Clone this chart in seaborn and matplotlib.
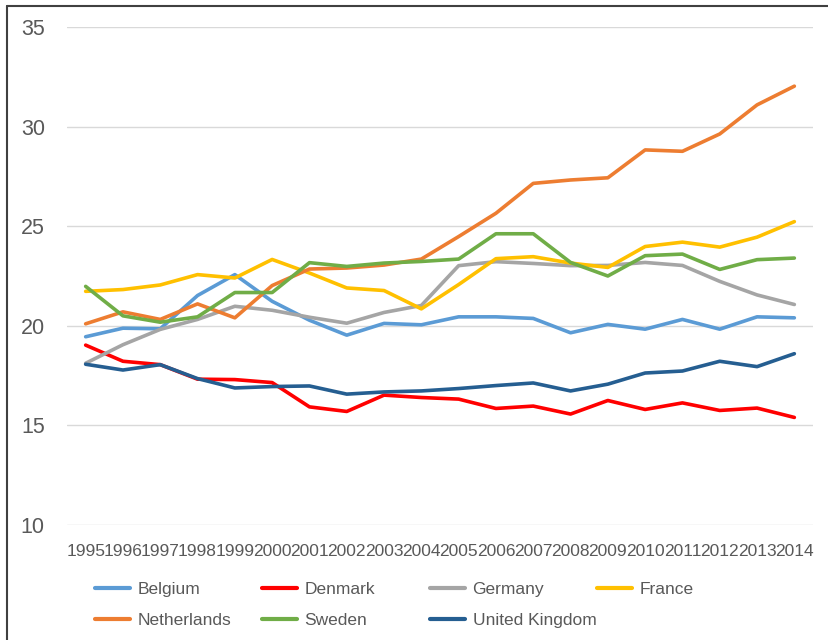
import matplotlib
matplotlib.use("Agg")
import matplotlib.pyplot as plt
from matplotlib.lines import Line2D
import seaborn as sns
import pandas as pd

years = [str(y) for y in range(1995, 2015)]
belgium = [19.45, 19.88, 19.85, 21.52, 22.57, 21.23, 20.28, 19.53, 20.12, 20.05,
           20.45, 20.45, 20.37, 19.65, 20.07, 19.83, 20.32, 19.83, 20.45, 20.40]
denmark = [19.03, 18.22, 18.05, 17.32, 17.30, 17.15, 15.93, 15.70, 16.52, 16.40,
           16.32, 15.85, 15.97, 15.57, 16.25, 15.80, 16.13, 15.75, 15.87, 15.40]
germany = [18.12, 19.05, 19.82, 20.32, 20.98, 20.78, 20.43, 20.13, 20.67, 21.02,
           23.02, 23.22, 23.13, 23.02, 23.03, 23.18, 23.03, 22.23, 21.55, 21.07]
france = [21.73, 21.82, 22.05, 22.57, 22.40, 23.33, 22.65, 21.90, 21.77, 20.85,
          22.07, 23.37, 23.47, 23.15, 22.93, 23.98, 24.20, 23.95, 24.45, 25.23]
netherlands = [20.10, 20.70, 20.32, 21.10, 20.40, 22.02, 22.85, 22.90, 23.05, 23.35,
               24.48, 25.65, 27.15, 27.32, 27.43, 28.83, 28.76, 29.63, 31.09, 32.03]
sweden = [21.98, 20.50, 20.18, 20.45, 21.67, 21.67, 23.17, 22.98, 23.15, 23.23,
          23.35, 24.62, 24.62, 23.18, 22.50, 23.52, 23.60, 22.83, 23.32, 23.40]
uk = [18.07, 17.78, 18.05, 17.35, 16.88, 16.95, 16.98, 16.57, 16.68, 16.73,
      16.85, 17.00, 17.13, 16.73, 17.07, 17.63, 17.73, 18.22, 17.95, 18.60]

countries = ["Belgium", "Denmark", "Germany", "France", "Netherlands", "Sweden", "United Kingdom"]
series = [belgium, denmark, germany, france, netherlands, sweden, uk]
colors = ["#5B9BD5", "#FF0000", "#A5A5A5", "#FFC000", "#ED7D31", "#70AD47", "#255E91"]
y_ticks = [10, 15, 20, 25, 30, 35]

rows = []
for c, vals in zip(countries, series):
    for i, v in enumerate(vals):
        rows.append({"idx": i, "value": v, "country": c})
df = pd.DataFrame(rows)

sns.set_theme(style="white")
plt.rcParams["font.family"] = ["Liberation Sans", "DejaVu Sans"]

fig = plt.figure(figsize=(8.29, 6.40), dpi=100)
ax = fig.add_axes([67 / 829, 1 - 525 / 640, (813 - 67) / 829, (525 - 27) / 640])

sns.lineplot(data=df, x="idx", y="value", hue="country", hue_order=countries,
             palette=dict(zip(countries, colors)), linewidth=2.6, ax=ax, legend=True)
handles, labels = ax.get_legend_handles_labels()
ax.get_legend().remove()

ax.set_xlim(-0.5, len(years) - 0.5)
ax.set_ylim(10, 35)
ax.set_yticks(y_ticks)
ax.set_yticklabels([str(t) for t in y_ticks], fontsize=15.5, color="#595959")
ax.set_xticks(range(len(years)))
ax.set_xticklabels(years, fontsize=12.5, color="#595959")
ax.tick_params(axis="y", length=0, pad=16)
ax.tick_params(axis="x", length=0, pad=14)
ax.set_xlabel("")
ax.set_ylabel("")
ax.grid(axis="y", color="#D9D9D9", linewidth=1.0)
ax.grid(axis="x", visible=False)
ax.set_axisbelow(True)
for s in ax.spines.values():
    s.set_visible(False)

# Legend: four columns placed like the reference
hmap = dict(zip(labels, handles))
cols = [["Belgium", "Netherlands"], ["Denmark", "Sweden"], ["Germany", "United Kingdom"], ["France"]]
xs = [95, 262, 430, 597]
for names, x0 in zip(cols, xs):
    hs = [Line2D([], [], color=hmap[n].get_color(), linewidth=3) for n in names]
    yc = (589 + 621) / 2 if len(names) == 2 else 589
    fig.legend(hs, names, loc="center left", bbox_to_anchor=(x0 / 829, 1 - yc / 640),
               frameon=False, fontsize=12.5, borderpad=0, borderaxespad=0,
               handlelength=2.0, handletextpad=0.45, labelspacing=0.95,
               labelcolor="#595959")

# chart border (left and top visible)
fig.add_artist(Line2D([7 / 829, 7 / 829], [0, 1 - 6 / 640], transform=fig.transFigure,
                      color="#404040", linewidth=1.5))
fig.add_artist(Line2D([7 / 829, 1], [1 - 6 / 640, 1 - 6 / 640], transform=fig.transFigure,
                      color="#404040", linewidth=1.5))

fig.savefig("out.png", dpi=100)
